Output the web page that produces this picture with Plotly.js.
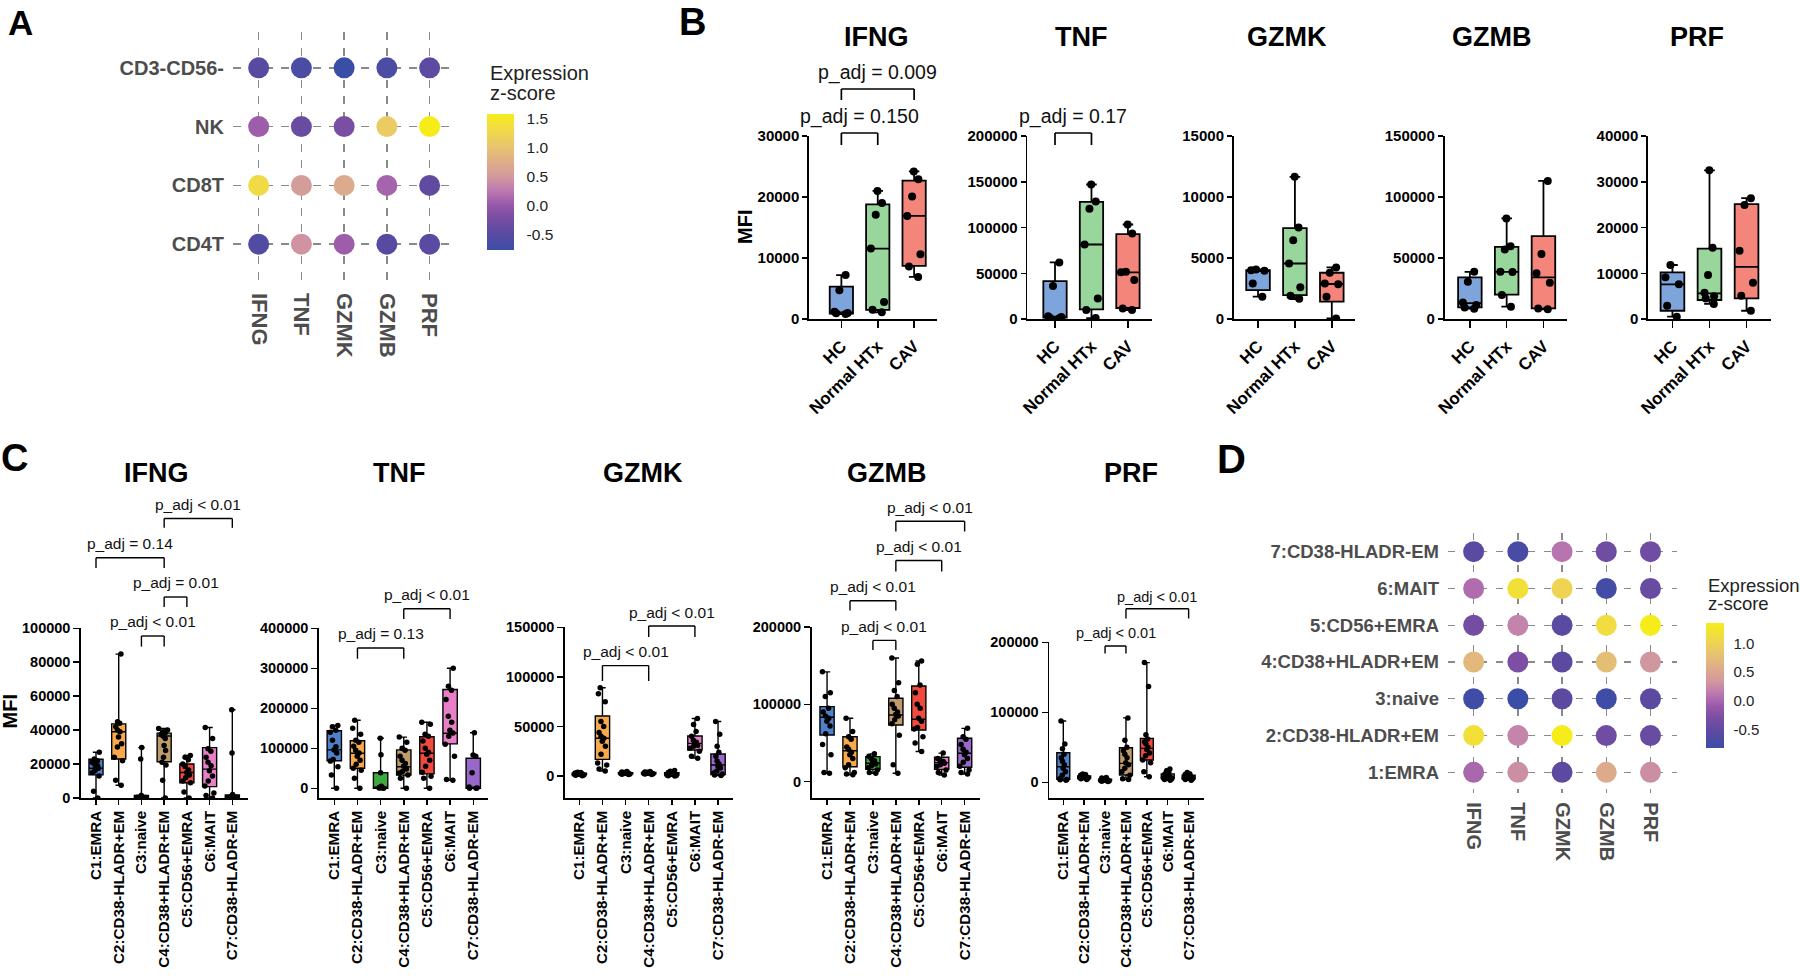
<!DOCTYPE html>
<html>
<head>
<meta charset="utf-8">
<script src="https://cdn.plot.ly/plotly-3.0.1.min.js"></script>
<style>
  html, body { margin: 0; padding: 0; background: #ffffff; }
  #fig { width: 1800px; height: 978px; }
</style>
</head>
<body>
<div id="fig"></div>
<script>
// ================= DATA =================
const genes = ['IFNG', 'TNF', 'GZMK', 'GZMB', 'PRF'];

// Panel A: expression z-scores per lineage (rows listed bottom to top)
const aRows = ['CD4T', 'CD8T', 'NK', 'CD3-CD56-'];
const zCD4T = [-0.55, 0.45, 0.05, -0.50, -0.48];
const zCD8T = [1.30, 0.55, 0.70, 0.10, -0.42];
const zNK = [0.05, -0.35, -0.20, 1.10, 1.57];
const zCD3CD56neg = [-0.50, -0.62, -0.76, -0.60, -0.45];

// Panel D: expression z-scores per CD8 T cell cluster (bottom to top)
const dRows = ['1:EMRA', '2:CD38-HLADR+EM', '3:naive', '4:CD38+HLADR+EM', '5:CD56+EMRA', '6:MAIT', '7:CD38-HLADR-EM'];
const zEMRA = [0.00, 0.27, -0.55, 0.54, 0.27];
const zCD38negHLADRposEM = [1.18, 0.20, 1.35, -0.39, -0.45];
const zNaive = [-0.79, -0.83, -0.55, -0.79, -0.55];
const zCD38posHLADRposEM = [0.70, -0.28, -0.55, 0.76, 0.33];
const zCD56posEMRA = [-0.35, 0.19, -0.57, 1.13, 1.35];
const zMAIT = [0.04, 1.18, 1.02, -0.76, -0.46];
const zCD38negHLADRnegEM = [-0.57, -0.72, 0.09, -0.39, -0.38];

// Panel B: MFI by patient group. Box summaries are [HC, Normal HTx, CAV]
const bGroups = ['HC', 'Normal HTx', 'CAV'];
const bIFNG_lo = [800, 1100, 6900];
const bIFNG_q1 = [900, 1500, 8700];
const bIFNG_med = [1050, 11550, 16900];
const bIFNG_q3 = [5300, 18800, 22700];
const bIFNG_hi = [7200, 21000, 24200];
const bIFNG_pts = [[7200, 4700, 1200, 1000, 950, 800],
                   [21000, 19000, 17100, 11550, 2800, 1500, 1100],
                   [24200, 22900, 20100, 16900, 10600, 8600, 6900]];

const bTNF_lo = [800, 1000, 9800];
const bTNF_q1 = [1500, 10500, 12000];
const bTNF_med = [2600, 81400, 51000];
const bTNF_q3 = [41500, 128000, 92700];
const bTNF_hi = [61800, 147000, 103300];
const bTNF_pts = [[61800, 36000, 3000, 2200, 1500, 800],
                  [147000, 128300, 120500, 81400, 22500, 9800, 1000],
                  [103300, 93400, 51700, 51000, 42500, 11600, 9800]];

const bGZMK_lo = [1830, 1640, 50];
const bGZMK_q1 = [2370, 1960, 1420];
const bGZMK_med = [3950, 4550, 2870];
const bGZMK_q3 = [4000, 7450, 3790];
const bGZMK_hi = [4060, 11650, 4230];
const bGZMK_pts = [[4050, 4000, 3950, 2900, 1830],
                   [11650, 7500, 6450, 4550, 2600, 1900, 1650],
                   [4230, 3800, 2900, 2850, 1830, 50]];

const bGZMB_lo = [8500, 10100, 7900];
const bGZMB_q1 = [9500, 19900, 8700];
const bGZMB_med = [13000, 38700, 34100];
const bGZMB_q3 = [34100, 59200, 67900];
const bGZMB_hi = [38700, 82400, 113200];
const bGZMB_pts = [[38700, 30500, 13600, 11500, 9500, 8500],
                   [82400, 59700, 57000, 38800, 38500, 19600, 10100],
                   [113200, 53200, 37400, 29700, 8700, 7900]];

const bPRF_lo = [500, 3300, 1800];
const bPRF_q1 = [1800, 4150, 4500];
const bPRF_med = [7560, 5600, 11400];
const bPRF_q3 = [10200, 15400, 25100];
const bPRF_hi = [11800, 32500, 26400];
const bPRF_pts = [[11800, 9100, 7600, 2900, 500],
                  [32500, 15600, 9600, 5750, 5000, 4500, 3300],
                  [26400, 24900, 14900, 7900, 5100, 1800]];

// Panel C: MFI by CD8 T cell cluster. Box summaries are C1..C7
const cClusters = ['C1:EMRA', 'C2:CD38-HLADR+EM', 'C3:naive', 'C4:CD38+HLADR+EM', 'C5:CD56+EMRA', 'C6:MAIT', 'C7:CD38-HLADR-EM'];

const cIFNG_lo = [0, 7500, 0, 0, 0, 0, 0];
const cIFNG_q1 = [13600, 23000, 300, 21400, 9000, 6700, 300];
const cIFNG_med = [17500, 39000, 700, 36500, 15000, 17000, 800];
const cIFNG_q3 = [22800, 43700, 1500, 38200, 20000, 29700, 1800];
const cIFNG_hi = [27000, 84800, 29700, 41000, 25000, 41500, 52000];
const cIFNG_pts = [
  [27000, 23000, 22000, 21000, 20000, 19000, 18000, 17500, 16000, 15000, 13000, 4000, 0],
  [84800, 45000, 44000, 42000, 40000, 39000, 36000, 32000, 30000, 24000, 22000, 10500, 7500],
  [29700, 23000, 1500, 1200, 1000, 800, 600, 500, 300, 100, 0],
  [41000, 40000, 39000, 38500, 37500, 36500, 35000, 31000, 28000, 24000, 21000, 19500, 10500, 0],
  [25000, 24000, 22500, 20000, 18500, 16500, 15000, 13500, 12000, 10000, 9000, 3500, 0],
  [41500, 35000, 29000, 27500, 24000, 21000, 19000, 16000, 13000, 10000, 7000, 3000, 1500, 0],
  [52000, 26500, 2000, 1500, 1200, 1000, 800, 500, 300, 0]];

const cTNF_lo = [0, 0, 0, 0, 0, 20000, 0];
const cTNF_q1 = [69000, 50000, 0, 33000, 36000, 111000, 0];
const cTNF_med = [96000, 87500, 2000, 54000, 87500, 137500, 2000];
const cTNF_q3 = [144000, 119000, 39000, 96000, 129000, 247000, 75000];
const cTNF_hi = [157000, 170000, 125000, 128000, 165000, 300000, 139000];
const cTNF_pts = [
  [157000, 154000, 145000, 140000, 120000, 104000, 96000, 88000, 72000, 68000, 54000, 33000, 0],
  [170000, 150000, 135000, 120000, 115000, 105000, 95000, 88000, 80000, 70000, 60000, 50000, 45000, 25000, 0],
  [125000, 84000, 39000, 5000, 3000, 2000, 1000, 500, 0],
  [128000, 115000, 100000, 95000, 80000, 70000, 62000, 55000, 48000, 42000, 38000, 33000, 25000, 0],
  [165000, 160000, 135000, 130000, 118000, 100000, 90000, 85000, 70000, 55000, 40000, 30000, 25000, 0],
  [300000, 255000, 245000, 222000, 180000, 165000, 145000, 138000, 130000, 110000, 80000, 22000, 20000],
  [139000, 83000, 80000, 39000, 3000, 1000, 0, 0]];

const cGZMK_lo = [300, 5000, 1500, 1500, 0, 18000, 500];
const cGZMK_q1 = [1200, 16800, 2300, 2300, 1000, 26200, 1500];
const cGZMK_med = [2000, 38000, 2800, 2900, 2200, 32900, 11100];
const cGZMK_q3 = [2800, 60500, 3400, 3500, 3400, 40300, 22200];
const cGZMK_hi = [3800, 89000, 4500, 4600, 5500, 58000, 55000];
const cGZMK_pts = [
  [3800, 3400, 3000, 2700, 2400, 2100, 1900, 1700, 1400, 1100, 800, 300],
  [89000, 83000, 75000, 55000, 50000, 44000, 40000, 38000, 35000, 30000, 22000, 13000, 11000, 7000, 5000],
  [4500, 4000, 3600, 3300, 3000, 2800, 2600, 2400, 2100, 1800, 1500],
  [4600, 4100, 3700, 3400, 3100, 2900, 2700, 2400, 2200, 1900, 1500],
  [5500, 4800, 4000, 3500, 3000, 2500, 2200, 1800, 1400, 1000, 600, 200, 0],
  [58000, 52000, 45000, 40000, 36000, 34000, 33000, 31000, 30000, 28000, 25000, 20000, 18000],
  [55000, 42000, 30000, 24000, 20000, 15000, 12000, 10000, 8000, 5000, 3000, 2000, 1000, 500]];

const cGZMB_lo = [10900, 9000, 10900, 10900, 39000, 8600, 10000];
const cGZMB_q1 = [60400, 19400, 16000, 73300, 66900, 16000, 18600];
const cGZMB_med = [83300, 40000, 23800, 86300, 80700, 24600, 36800];
const cGZMB_q3 = [97000, 58200, 32400, 107900, 123800, 31600, 56100];
const cGZMB_hi = [142000, 82000, 36000, 160000, 156000, 37000, 69000];
const cGZMB_pts = [
  [142000, 115000, 110000, 95000, 90000, 85000, 82000, 78000, 72000, 62000, 48000, 35000, 12000, 10900],
  [82000, 65000, 58000, 55000, 45000, 42000, 38000, 35000, 30000, 22000, 18000, 12000, 10000, 9000],
  [36000, 33000, 30000, 27000, 25000, 23000, 21000, 18000, 15000, 12000, 10900],
  [160000, 128000, 118000, 110000, 100000, 95000, 90000, 87000, 85000, 80000, 75000, 60000, 22000, 10900],
  [156000, 152000, 125000, 115000, 100000, 95000, 82000, 78000, 70000, 68000, 58000, 50000, 39000],
  [37000, 30000, 28000, 26000, 25000, 24000, 22000, 20000, 15000, 12000, 8600],
  [69000, 58000, 55000, 48000, 42000, 38000, 35000, 30000, 25000, 20000, 15000, 12000, 10000]];

const cPRF_lo = [3000, 4000, 1000, 4000, 8000, 3000, 3000];
const cPRF_q1 = [4300, 6000, 2500, 10400, 31900, 6000, 5000];
const cPRF_med = [22300, 7500, 3300, 27100, 48500, 8500, 7500];
const cPRF_q3 = [42300, 9000, 4500, 49400, 62800, 12000, 10000];
const cPRF_hi = [87600, 12000, 7000, 92000, 171000, 19000, 14000];
const cPRF_pts = [
  [87600, 54700, 48000, 40000, 35000, 30000, 25000, 20000, 15000, 10000, 5000, 4000, 3500, 3000],
  [12000, 11000, 10000, 9000, 8500, 8000, 7500, 7000, 6500, 6000, 5000, 4000],
  [7000, 6000, 5000, 4500, 4000, 3500, 3000, 2500, 2000, 1500, 1000],
  [92000, 60000, 50000, 45000, 40000, 35000, 28000, 25000, 20000, 15000, 10000, 5000, 4000],
  [171000, 137000, 68000, 62000, 58000, 55000, 50000, 47000, 42000, 38000, 32000, 28000, 15000, 8000],
  [19000, 16000, 14000, 12000, 10000, 9000, 8500, 8000, 7000, 6000, 5000, 4000, 3000],
  [14000, 12000, 11000, 10000, 9000, 8000, 7500, 7000, 6000, 5000, 4000, 3000]];

// ================= STYLE / LAYOUT HELPERS =================
const W = 1800, H = 978;
const px = v => v / W;          // pixel column -> paper x
const py = v => 1 - v / H;      // pixel row -> paper y
const FONT = 'Liberation Sans, Arial, Helvetica, sans-serif';
const GREY = '#4d4d4d';

const zScale = [
  [0.00, '#3b4ea7'], [0.12, '#5a4aa1'], [0.24, '#794ea3'], [0.33, '#9758aa'],
  [0.44, '#be7aaf'], [0.54, '#d3999d'], [0.65, '#dfae88'], [0.76, '#e8c46f'],
  [0.88, '#f0da48'], [1.00, '#f6ec1a']];

const bColors = ['#7da5dc', '#98d69c', '#f3857b'];
const cColors = ['#4f80ca', '#f8a94b', '#3caa40', '#bf9b6b', '#f04a3f', '#e880c8', '#9a67cb'];

const traces = [];
const layout = {
  width: W, height: H,
  margin: {l: 0, r: 0, t: 0, b: 0},
  paper_bgcolor: '#ffffff', plot_bgcolor: 'rgba(0,0,0,0)',
  showlegend: false, boxmode: 'overlay',
  font: {family: FONT, color: '#000'},
  annotations: [], shapes: []
};

function note(text, x, y, size, opts) {
  layout.annotations.push(Object.assign({
    text: text, x: x, y: y, xref: 'paper', yref: 'paper',
    showarrow: false, xanchor: 'center', yanchor: 'middle',
    font: {family: FONT, size: size, color: '#000'}
  }, opts || {}));
}

// ---------- dot-plot panels (A and D) ----------
function dotPanel(n, rows, zRows, dom, ranges, style) {
  const xs = [], ys = [], cs = [];
  rows.forEach((r, i) => genes.forEach((g, j) => { xs.push(g); ys.push(r); cs.push(zRows[i][j]); }));
  const id = n === 1 ? '' : String(n);
  traces.push({
    type: 'scatter', mode: 'markers', xaxis: 'x' + id, yaxis: 'y' + id,
    x: xs, y: ys, hoverinfo: 'skip',
    marker: {
      size: style.ms, color: cs, colorscale: zScale, cmin: style.cmin, cmax: style.cmax,
      line: {width: 0}, showscale: true,
      colorbar: Object.assign({
        xanchor: 'left', yanchor: 'top', lenmode: 'pixels', thicknessmode: 'pixels',
        xpad: 0, ypad: 0, outlinewidth: 0, ticks: 'outside', tickcolor: 'rgba(0,0,0,0)',
        tickvals: style.cbTicks, ticktext: style.cbTicks.map(v => v.toFixed(1)),
        tickfont: {family: FONT, size: style.cbFont, color: '#222'}
      }, style.cb)
    }
  });
  const grid = {showgrid: true, gridcolor: '#8a8a8a', gridwidth: style.gw, griddash: style.dash,
                zeroline: false, showline: false, ticks: '', fixedrange: true, type: 'category'};
  layout['xaxis' + id] = Object.assign({}, grid, {
    domain: [px(dom[0]), px(dom[1])], anchor: 'y' + id,
    categoryorder: 'array', categoryarray: genes, range: ranges[0],
    tickangle: 90, ticklabelstandoff: style.xStand,
    tickfont: {family: FONT, size: style.xFont, color: GREY, weight: 'bold'}
  });
  layout['yaxis' + id] = Object.assign({}, grid, {
    domain: [py(dom[3]), py(dom[2])], anchor: 'x' + id,
    categoryorder: 'array', categoryarray: rows, range: ranges[1],
    ticklabelstandoff: style.yStand,
    tickfont: {family: FONT, size: style.yFont, color: GREY, weight: 'bold'}
  });
}

dotPanel(1, aRows, [zCD4T, zCD8T, zNK, zCD3CD56neg], [233, 451, 32, 280],
  [[-0.6, 4.5], [-0.61, 3.61]],
  {ms: 21, cmin: -0.76, cmax: 1.57, gw: 1.6, dash: '8px,8px', xFont: 22, yFont: 20,
   xStand: 12, yStand: 8, cbTicks: [-0.5, 0, 0.5, 1, 1.5], cbFont: 15.5,
   cb: {x: px(487.5), y: py(114), len: 136, thickness: 26.5, ticklen: 10}});

dotPanel(12, dRows,
  [zEMRA, zCD38negHLADRposEM, zNaive, zCD38posHLADRposEM, zCD56posEMRA, zMAIT, zCD38negHLADRnegEM],
  [1448, 1677, 533.3, 793.3], [[-0.58, 4.6], [-0.57, 6.5]],
  {ms: 21, cmin: -0.83, cmax: 1.35, gw: 1.4, dash: '7px,9px', xFont: 20, yFont: 18.5,
   xStand: 8, yStand: 8, cbTicks: [-0.5, 0, 0.5, 1], cbFont: 15,
   cb: {x: px(1706.2), y: py(623.3), len: 125, thickness: 18, ticklen: 7}});

// colour-bar headings
note('Expression', px(487.5), py(73), 20, {xanchor: 'left', font: {family: FONT, size: 20, color: '#222'}});
note('z-score', px(487.5), py(93), 20, {xanchor: 'left', font: {family: FONT, size: 20, color: '#222'}});
note('Expression', px(1706.2), py(585), 18.5, {xanchor: 'left', font: {family: FONT, size: 18.5, color: '#222'}});
note('z-score', px(1706.2), py(603), 18.5, {xanchor: 'left', font: {family: FONT, size: 18.5, color: '#222'}});

// ---------- box-plot panels (B and C) ----------
function boxPanel(n, cats, colors, stats, pts, cfg) {
  const id = String(n);
  const [lo, q1, med, q3, hi] = stats;
  cats.forEach((c, i) => {
    traces.push({
      type: 'box', orientation: 'v', xaxis: 'x' + id, yaxis: 'y' + id,
      x: [c], q1: [q1[i]], median: [med[i]], q3: [q3[i]], lowerfence: [lo[i]], upperfence: [hi[i]],
      boxpoints: false, fillcolor: colors[i], line: {color: '#000', width: cfg.lw},
      whiskerwidth: 0.45, width: cfg.bw, hoverinfo: 'skip'
    });
    traces.push({
      type: 'box', orientation: 'v', xaxis: 'x' + id, yaxis: 'y' + id,
      x: pts[i].map(() => c), y: pts[i],
      boxpoints: 'all', jitter: cfg.jitter, pointpos: 0,
      fillcolor: 'rgba(0,0,0,0)', line: {color: 'rgba(0,0,0,0)', width: 0},
      whiskerwidth: 0, width: cfg.bw, marker: {color: '#000', size: cfg.ms}, hoverinfo: 'skip'
    });
  });
  layout['xaxis' + id] = {
    domain: [px(cfg.dom[0]), px(cfg.dom[1])], anchor: 'y' + id, type: 'category',
    categoryorder: 'array', categoryarray: cats, range: cfg.xr,
    showline: true, linecolor: '#000', linewidth: 1.7, showgrid: false, zeroline: false,
    ticks: 'outside', ticklen: cfg.xtl, tickwidth: 1.5, tickcolor: '#000',
    tickangle: cfg.angle, ticklabelstandoff: cfg.xStand,
    tickfont: {family: FONT, size: cfg.xFont, color: '#000', weight: 'bold'}, fixedrange: true
  };
  layout['yaxis' + id] = {
    domain: [py(cfg.dom[3]), py(cfg.dom[2])], anchor: 'x' + id, range: cfg.yr,
    tickvals: cfg.ticks, tickformat: 'd',
    showline: true, linecolor: '#000', linewidth: 1.7, showgrid: false, zeroline: false,
    ticks: 'outside', ticklen: cfg.ytl, tickwidth: 1.5, tickcolor: '#000',
    tickfont: {family: FONT, size: cfg.yFont, color: '#000', weight: 'bold'}, fixedrange: true
  };
  // significance brackets: [first group, second group, bar row, leg end row, label row, label]
  (cfg.brackets || []).forEach(b => {
    const [i0, i1, top, leg, ty, label] = b;
    const ln = {color: '#000', width: cfg.blw};
    const base = {type: 'line', xref: 'x' + id, yref: 'paper', line: ln};
    layout.shapes.push(Object.assign({}, base, {x0: i0, x1: i1, y0: py(top), y1: py(top)}));
    layout.shapes.push(Object.assign({}, base, {x0: i0, x1: i0, y0: py(top), y1: py(leg)}));
    layout.shapes.push(Object.assign({}, base, {x0: i1, x1: i1, y0: py(top), y1: py(leg)}));
    layout.annotations.push({
      text: label, xref: 'x' + id, yref: 'paper', x: (i0 + i1) / 2, y: py(ty),
      showarrow: false, xanchor: 'center', yanchor: 'middle',
      font: {family: FONT, size: cfg.pFont, color: '#111'}
    });
  });
  note(cfg.title, px(cfg.titleX), py(cfg.titleY), cfg.titleFont, {font: {family: FONT, size: cfg.titleFont, color: '#000', weight: 'bold'}});
}

const bBase = {bw: 0.64, lw: 1.8, ms: 8, jitter: 0.7, angle: -45, xtl: 7, ytl: 5, xStand: 2,
               xFont: 17, yFont: 15, pFont: 19.5, blw: 1.7, titleY: 37, titleFont: 27};
const bSpecs = [
  {stats: [bIFNG_lo, bIFNG_q1, bIFNG_med, bIFNG_q3, bIFNG_hi], pts: bIFNG_pts, title: 'IFNG', titleX: 876.4,
   dom: [809, 937.4, 136, 319], xr: [-0.89, 2.64], yr: [0, 30000], ticks: [0, 10000, 20000, 30000],
   brackets: [[0, 2, 89, 100, 73, 'p_adj = 0.009'], [0, 1, 133, 145, 117, 'p_adj = 0.150']]},
  {stats: [bTNF_lo, bTNF_q1, bTNF_med, bTNF_q3, bTNF_hi], pts: bTNF_pts, title: 'TNF', titleX: 1081,
   dom: [1027.3, 1152, 136, 319], xr: [-0.76, 2.66], yr: [0, 200000], ticks: [0, 50000, 100000, 150000, 200000],
   brackets: [[0, 1, 133, 145, 117, 'p_adj = 0.17']]},
  {stats: [bGZMK_lo, bGZMK_q1, bGZMK_med, bGZMK_q3, bGZMK_hi], pts: bGZMK_pts, title: 'GZMK', titleX: 1286.6,
   dom: [1233.7, 1355.4, 136, 319], xr: [-0.66, 2.64], yr: [0, 15000], ticks: [0, 5000, 10000, 15000]},
  {stats: [bGZMB_lo, bGZMB_q1, bGZMB_med, bGZMB_q3, bGZMB_hi], pts: bGZMB_pts, title: 'GZMB', titleX: 1491.9,
   dom: [1444.5, 1567, 136, 319], xr: [-0.69, 2.64], yr: [0, 150000], ticks: [0, 50000, 100000, 150000]},
  {stats: [bPRF_lo, bPRF_q1, bPRF_med, bPRF_q3, bPRF_hi], pts: bPRF_pts, title: 'PRF', titleX: 1697,
   dom: [1648, 1771, 136, 319], xr: [-0.66, 2.66], yr: [0, 40000], ticks: [0, 10000, 20000, 30000, 40000]}
];
bSpecs.forEach((s, k) => boxPanel(2 + k, bGroups, bColors, s.stats, s.pts, Object.assign({}, bBase, s)));

const LT = 'p_adj &lt; 0.01';
const cBase = {bw: 0.62, lw: 1.4, ms: 5.5, jitter: 0.8, angle: -90, xtl: 5, ytl: 6, xStand: 0,
               xFont: 15.2, yFont: 14.5, pFont: 15.5, blw: 1.4, titleY: 472.5, titleFont: 27};
const cSpecs = [
  {stats: [cIFNG_lo, cIFNG_q1, cIFNG_med, cIFNG_q3, cIFNG_hi], pts: cIFNG_pts, title: 'IFNG', titleX: 156,
   dom: [81, 248, 628.3, 798], xr: [-0.66, 6.69], yr: [0, 100000], ticks: [0, 20000, 40000, 60000, 80000, 100000],
   brackets: [[3, 6, 518.5, 527.8, 504.4, LT], [0, 3, 557.8, 568.1, 543.3, 'p_adj = 0.14'],
              [3, 4, 597, 607, 582.2, 'p_adj = 0.01'], [2, 3, 636, 646.6, 621.8, LT]]},
  {stats: [cTNF_lo, cTNF_q1, cTNF_med, cTNF_q3, cTNF_hi], pts: cTNF_pts, title: 'TNF', titleX: 399,
   dom: [319, 488.3, 628.3, 798], xr: [-0.66, 6.65], yr: [-24250, 400000], ticks: [0, 100000, 200000, 300000, 400000],
   brackets: [[3, 5, 608.8, 619.1, 594.3, LT], [1, 3, 648, 658.7, 633.9, 'p_adj = 0.13']]},
  {stats: [cGZMK_lo, cGZMK_q1, cGZMK_med, cGZMK_q3, cGZMK_hi], pts: cGZMK_pts, title: 'GZMK', titleX: 643.3,
   dom: [565, 733.3, 627.3, 798], xr: [-0.62, 6.66], yr: [-22200, 150000], ticks: [0, 50000, 100000, 150000],
   brackets: [[3, 5, 626, 637, 612.2, LT], [1, 3, 665.6, 681, 651.8, LT]]},
  {stats: [cGZMB_lo, cGZMB_q1, cGZMB_med, cGZMB_q3, cGZMB_hi], pts: cGZMB_pts, title: 'GZMB', titleX: 886.7,
   dom: [811.7, 980, 627, 798], xr: [-0.67, 6.67], yr: [-21070, 200000], ticks: [0, 100000, 200000],
   brackets: [[3, 6, 521.3, 531.6, 507.2, LT], [3, 5, 560.5, 571.6, 546.8, LT],
              [1, 3, 600.8, 610.5, 586.4, LT], [2, 3, 640.4, 650.1, 626, LT]]},
  {stats: [cPRF_lo, cPRF_q1, cPRF_med, cPRF_q3, cPRF_hi], pts: cPRF_pts, title: 'PRF', titleX: 1130.7, pFont: 14.5,
   dom: [1049.3, 1204.3, 642.3, 798], xr: [-0.67, 6.75], yr: [-22430, 200000], ticks: [0, 100000, 200000],
   brackets: [[3, 6, 608.8, 618.4, 596.7, LT], [2, 3, 646, 653.5, 632.9, LT]]}
];
cSpecs.forEach((s, k) => boxPanel(7 + k, cClusters, cColors, s.stats, s.pts, Object.assign({}, cBase, s)));

// y-axis titles
note('MFI', px(745), py(227), 20, {textangle: -90, font: {family: FONT, size: 20, color: '#000', weight: 'bold'}});
note('MFI', px(9.5), py(712), 20, {textangle: -90, font: {family: FONT, size: 20, color: '#000', weight: 'bold'}});

// panel letters (anchored by their top edge so none runs off the page)
function letter(t, x, yTop, size) {
  note(t, px(x), py(yTop), size, {xanchor: 'left', yanchor: 'top', borderpad: 0,
    font: {family: FONT, size: size, color: '#000', weight: 'bold'}});
}
letter('A', 7, 2, 35);
letter('B', 678, 0, 38);
letter('C', 0, 436, 38);
letter('D', 1216, 436, 40);

Plotly.newPlot('fig', traces, layout, {staticPlot: true, displayModeBar: false});
</script>
</body>
</html>
